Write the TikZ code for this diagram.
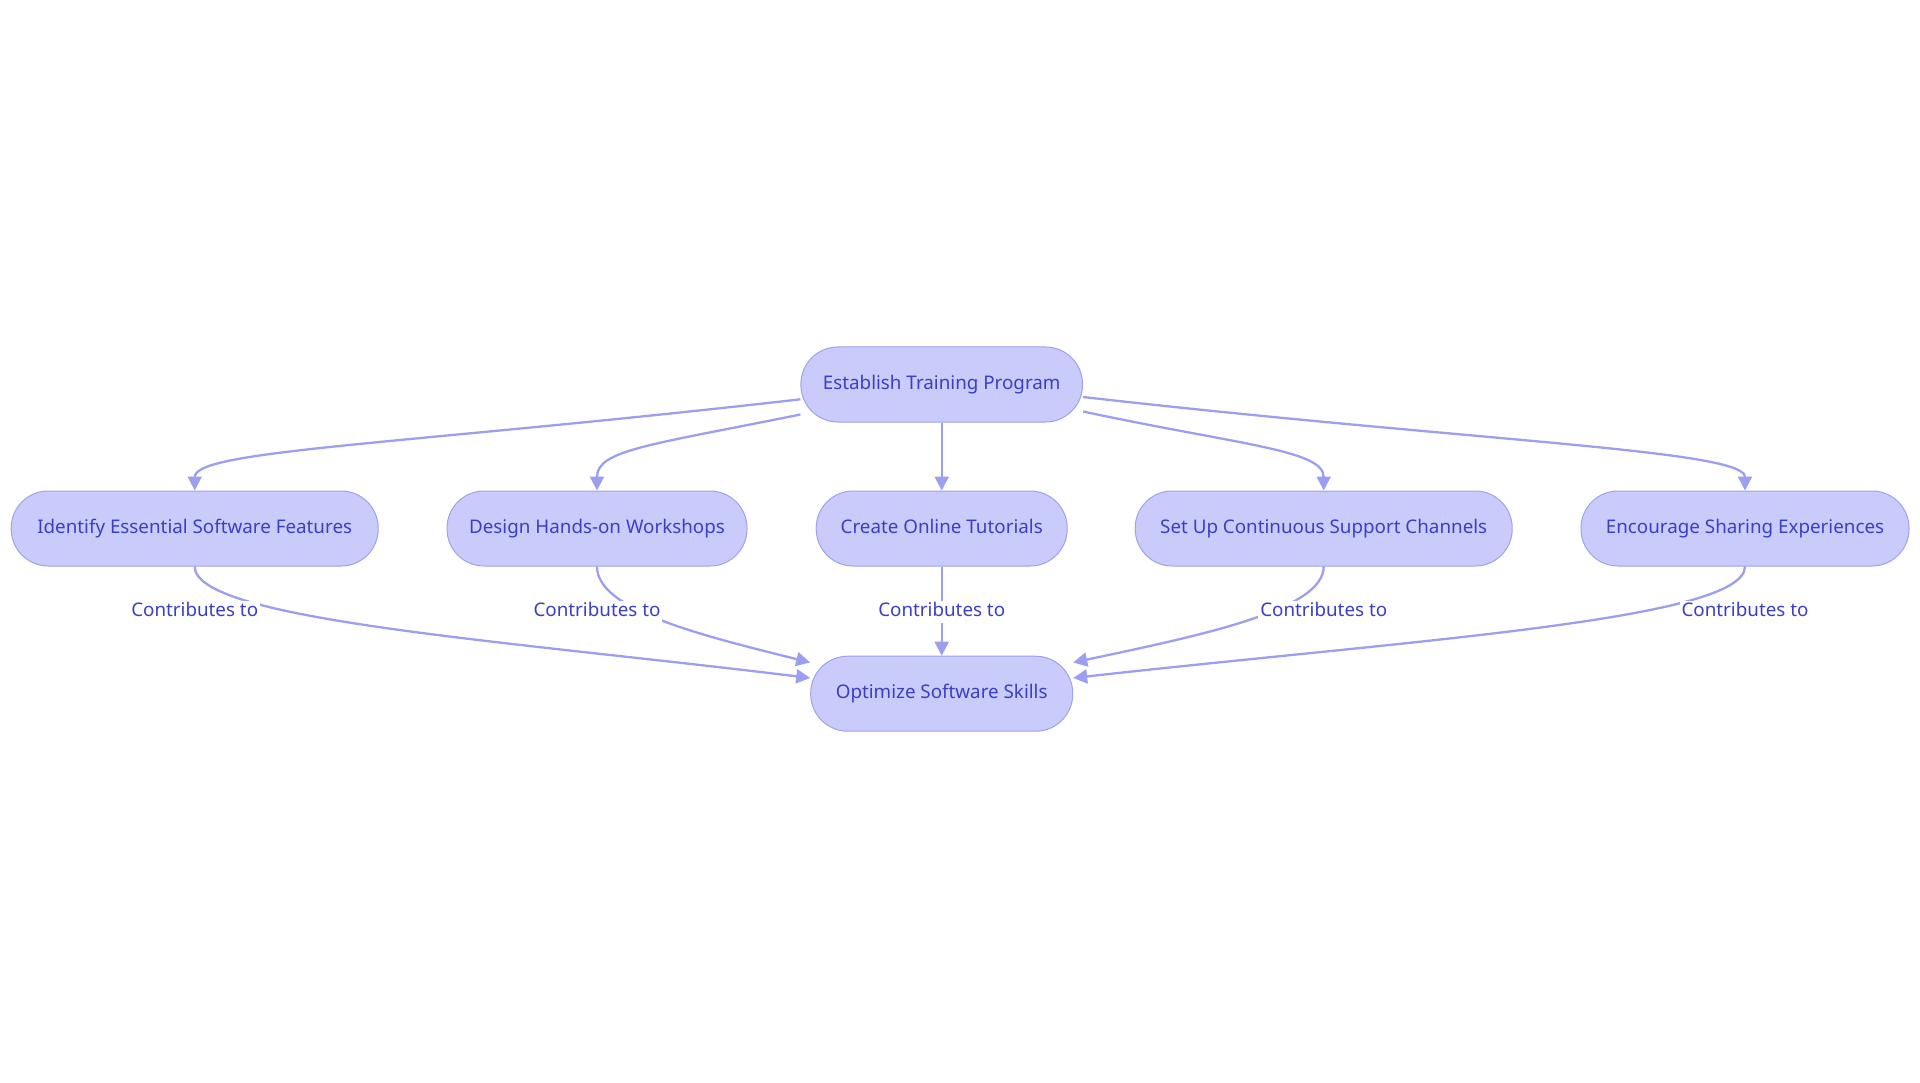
\documentclass[tikz,border=0pt]{standalone}
\usepackage{fontspec}
\setmainfont{Noto Sans}
\usetikzlibrary{arrows.meta}
\definecolor{nfill}{HTML}{C9CBFA}
\definecolor{nborder}{HTML}{9EA1EE}
\definecolor{ntext}{HTML}{3A3FC6}
\definecolor{nedge}{HTML}{9C9FF0}
\begin{document}
\begin{tikzpicture}[x=1pt,y=-1pt,
  box/.style={draw=nborder, line width=1pt, fill=nfill, rounded corners=37pt,
    minimum height=75pt, text=ntext, font=\fontsize{18.8}{22}\selectfont, inner sep=0pt,
    text height=13.5pt, text depth=4.5pt},
  conn/.style={draw=nedge, line width=2.3pt, -{Triangle[length=14pt,width=14pt]}},
  lbl/.style={fill=white, text=ntext, font=\fontsize{18.8}{22}\selectfont, inner sep=2pt,
    text height=13.5pt, text depth=4.5pt}]
\useasboundingbox (0,0) rectangle (1920,1083);
% nodes
\node[box, minimum width=281.6pt] (top) at (941.7,384.5) {Establish Training Program};
\node[box, minimum width=367pt] (ident) at (194.7,528.5) {Identify Essential Software Features};
\node[box, minimum width=300pt] (design) at (597,528.5) {Design Hands-on Workshops};
\node[box, minimum width=251pt] (create) at (941.7,528.5) {Create Online Tutorials};
\node[box, minimum width=377pt] (setup) at (1323.7,528.5) {Set Up Continuous Support Channels};
\node[box, minimum width=328pt] (encour) at (1745,528.5) {Encourage Sharing Experiences};
\node[box, minimum width=262pt] (bot) at (941.7,693.7) {Optimize Software Skills};
% top edges
\draw[conn] ([yshift=-14.8pt]top.west) .. controls (400,445) and (194.7,450) .. (ident.north);
\draw[conn] ([yshift=-30pt]top.west) .. controls (650,445) and (597,450) .. (design.north);
\draw[conn] (top.south) -- (create.north);
\draw[conn] ([yshift=-27pt]top.east) .. controls (1240,445) and (1323.7,450) .. (setup.north);
\draw[conn] ([yshift=-12.5pt]top.east) .. controls (1480,442) and (1745,450) .. (encour.north);
% bottom edges
\draw[conn] (ident.south) .. controls (194.7,620) and (500,640) .. ([yshift=15.7pt]bot.west);
\draw[conn] (design.south) .. controls (597,610) and (700,635) .. ([yshift=31.2pt]bot.west);
\draw[conn] (create.south) -- (bot.north);
\draw[conn] (setup.south) .. controls (1323.7,610) and (1202.7,635) .. ([yshift=31.2pt]bot.east);
\draw[conn] (encour.south) .. controls (1745,620) and (1412,640) .. ([yshift=15.7pt]bot.east);
% labels
\node[lbl] (l1) at (194.7,612) {Contributes to};
\node[lbl] (l2) at (597,612) {Contributes to};
\node[lbl] (l3) at (941.7,612) {Contributes to};
\node[lbl] (l4) at (1323.7,612) {Contributes to};
\node[lbl] (l5) at (1745,612) {Contributes to};
\end{tikzpicture}
\end{document}
